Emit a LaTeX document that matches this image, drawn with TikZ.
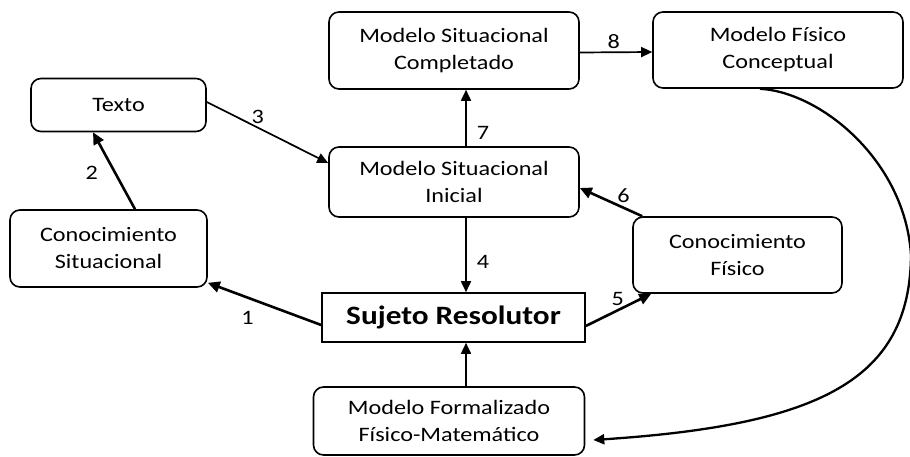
\documentclass[tikz,border=0pt]{standalone}
\usepackage{fontspec}
\setmainfont{Carlito}[FakeStretch=1.18]
\usepackage{tikz}
\usetikzlibrary{arrows.meta}

\begin{document}
\begin{tikzpicture}[x=1pt,y=-1pt,
		caja/.style={draw,rounded corners=10pt,line width=1.6pt,align=center,inner sep=0pt,font=\fontsize{20.5}{27}\selectfont},
		num/.style={inner sep=1pt,font=\fontsize{20.5}{24}\selectfont},
		fl/.style={-{Triangle[length=11pt,width=10pt]},line width=1.7pt},
		flg/.style={-{Triangle[length=12pt,width=11pt]},line width=2.6pt}]
		\useasboundingbox (0,0) rectangle (910,457);
		\node[caja,minimum width=175pt,minimum height=53pt] (texto) at (118.5,105) {Texto};
		\node[caja,minimum width=197pt,minimum height=77pt] (consit) at (108.5,248.5) {Conocimiento\\Situacional};
		\node[caja,minimum width=250pt,minimum height=77pt] (msc) at (454,50.5) {Modelo Situacional\\Completado};
		\node[caja,minimum width=250pt,minimum height=76pt] (mfc) at (778,50) {Modelo Físico\\Conceptual};
		\node[caja,minimum width=250pt,minimum height=70pt] (msi) at (454,182) {Modelo Situacional\\Inicial};
		\node[caja,minimum width=209pt,minimum height=76pt] (confis) at (737.5,255) {Conocimiento\\Físico};
		\node[draw,line width=1.6pt,minimum width=263pt,minimum height=49pt,inner sep=0pt,font=\fontsize{26.5}{30}\selectfont\bfseries] (sujeto) at (453.5,317.5) {Sujeto Resolutor};
		\node[caja,minimum width=271pt,minimum height=68pt] (mform) at (449,421) {Modelo Formalizado\\Físico-Matemático};
		\path[flg]
		([yshift=-7.5pt]sujeto.west) edge node[num,pos=0.65,below=11pt] {1} ([yshift=5pt]consit.south east)
		([xshift=26.5pt]consit.north) edge node[num,pos=0.47,left=15pt] {2} ([xshift=-25.5pt]texto.south)
		([yshift=-8.5pt]sujeto.east) edge node[num,pos=0.49,above=2pt] {5} ([xshift=19pt]confis.south west)
		([xshift=10pt]confis.north west) edge node[num,pos=0.3,above=3pt] {6} ([yshift=-6pt]msi.east);
		\path[fl]
		([yshift=3pt]texto.east) edge node[num,pos=0.42,above=2pt] {3} ([yshift=19pt]msi.west)
		([xshift=12pt]msi.south) edge node[num,pos=0.59,right=9pt] {4} ([xshift=12.5pt]sujeto.north)
		([xshift=12pt]msi.north) edge node[num,pos=0.24,right=9pt] {7} ([xshift=12pt]msc.south)
		([yshift=-2pt]msc.east) edge node[num,pos=0.47,above=2pt] {8} ([yshift=-2pt]mfc.west)
		([xshift=17pt]mform.north) edge ([xshift=12.5pt]sujeto.south);
		\draw[fl,line width=2.3pt] ([xshift=-18pt]mfc.south) .. controls (820,92) and (905,160) .. (911,255)
		.. controls (910,380) and (820,425) .. ([xshift=8pt,yshift=-19pt]mform.east);
	\end{tikzpicture}
\end{document}
